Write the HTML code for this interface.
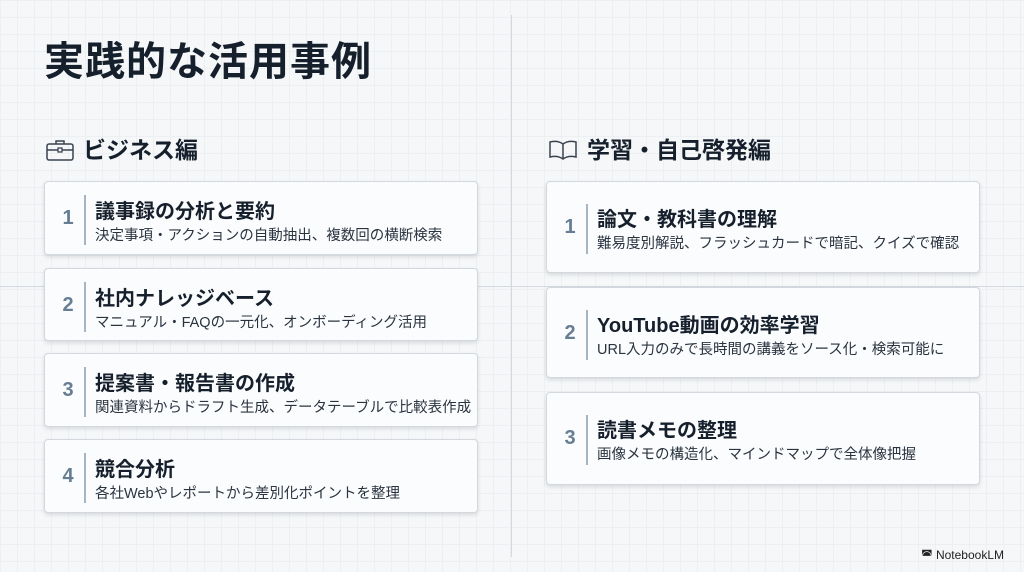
<!DOCTYPE html>
<html><head><meta charset="utf-8"><style>
*{margin:0;padding:0;box-sizing:border-box}
body{width:1024px;height:572px;overflow:hidden;position:relative;font-family:"Liberation Sans","Noto Sans CJK JP",sans-serif;color:#16202c;
background-color:#f5f7f9;
background-image:linear-gradient(#edf0f3 1px,transparent 1px),linear-gradient(90deg,#edf0f3 1px,transparent 1px);background-size:17px 17px}
.vl{position:absolute;left:511px;top:15px;width:1px;height:542px;background:#d3d9df}
.hl{position:absolute;left:0;top:286px;width:1024px;height:1px;background:#d3d9df}
h1{position:absolute;left:44px;top:37px;font-size:40px;font-weight:700;letter-spacing:1px;line-height:50px}
.sec{position:absolute;font-size:23px;font-weight:700;line-height:30px;display:flex;align-items:center;gap:9px}
.card{position:absolute;background:#fbfcfd;border:1px solid #d2d8de;border-radius:4px;box-shadow:0 2px 4px rgba(0,0,0,.12)}
.num{position:absolute;left:16px;width:14px;text-align:center;font-size:20px;font-weight:700;color:#667d94}
.bar{position:absolute;left:39px;width:2px;background:#a6b5c4}
.t{position:absolute;left:50px;font-size:20px;font-weight:700;white-space:nowrap}
.s{position:absolute;left:50px;font-size:14.5px;color:#2a3440;white-space:nowrap}
.logo{position:absolute;right:20px;bottom:10px;font-size:12px;color:#222}
</style></head><body>
<div class="vl"></div><div class="hl"></div>
<h1>実践的な活用事例</h1>
<div class="sec" style="left:46px;top:135px"><svg width="28" height="22" viewBox="0 0 28 22"><rect x="1" y="5" width="26" height="16" rx="2" fill="none" stroke="#3a4450" stroke-width="1.5"/><path d="M10 5V2h8v3M1 11h26" fill="none" stroke="#3a4450" stroke-width="1.5"/><rect x="12" y="9" width="4" height="4" fill="#f5f7f9" stroke="#3a4450" stroke-width="1.3"/></svg>ビジネス編</div>
<div class="sec" style="left:548px;top:135px"><svg width="30" height="22" viewBox="0 0 30 22"><path d="M15 5C11 2 6 2 2 3v15c4-1 9-1 13 2 4-3 9-3 13-2V3c-4-1-9-1-13 2zM15 5v15" fill="none" stroke="#3a4450" stroke-width="1.5"/></svg>学習・自己啓発編</div>

<div class="card" style="left:44px;top:181px;width:434px;height:74px"><div class="num" style="top:25px">1</div><div class="bar" style="top:13px;height:50px"></div><div class="t" style="top:13px">議事録の分析と要約</div><div class="s" style="top:42px">決定事項・アクションの自動抽出、複数回の横断検索</div></div>
<div class="card" style="left:44px;top:268px;width:434px;height:73px"><div class="num" style="top:25px">2</div><div class="bar" style="top:13px;height:50px"></div><div class="t" style="top:13px">社内ナレッジベース</div><div class="s" style="top:42px">マニュアル・FAQの一元化、オンボーディング活用</div></div>
<div class="card" style="left:44px;top:353px;width:434px;height:74px"><div class="num" style="top:25px">3</div><div class="bar" style="top:13px;height:50px"></div><div class="t" style="top:13px">提案書・報告書の作成</div><div class="s" style="top:42px">関連資料からドラフト生成、データテーブルで比較表作成</div></div>
<div class="card" style="left:44px;top:439px;width:434px;height:74px"><div class="num" style="top:25px">4</div><div class="bar" style="top:13px;height:50px"></div><div class="t" style="top:13px">競合分析</div><div class="s" style="top:42px">各社Webやレポートから差別化ポイントを整理</div></div>

<div class="card" style="left:546px;top:181px;width:434px;height:92px"><div class="num" style="top:34px">1</div><div class="bar" style="top:22px;height:50px"></div><div class="t" style="top:21px">論文・教科書の理解</div><div class="s" style="top:50px">難易度別解説、フラッシュカードで暗記、クイズで確認</div></div>
<div class="card" style="left:546px;top:287px;width:434px;height:91px"><div class="num" style="top:34px">2</div><div class="bar" style="top:22px;height:50px"></div><div class="t" style="top:21px">YouTube動画の効率学習</div><div class="s" style="top:50px">URL入力のみで長時間の講義をソース化・検索可能に</div></div>
<div class="card" style="left:546px;top:392px;width:434px;height:93px"><div class="num" style="top:34px">3</div><div class="bar" style="top:22px;height:50px"></div><div class="t" style="top:21px">読書メモの整理</div><div class="s" style="top:50px">画像メモの構造化、マインドマップで全体像把握</div></div>

<div class="logo">◚ NotebookLM</div>
</body></html>
